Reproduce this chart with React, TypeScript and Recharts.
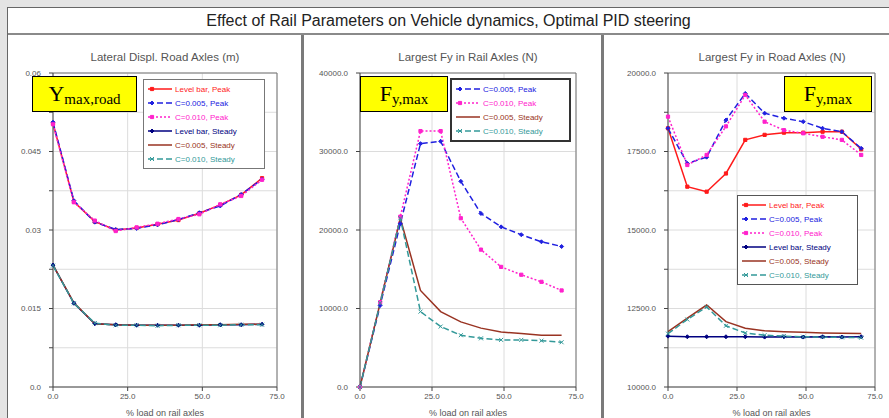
import React from "react";
import { CartesianGrid, Line, LineChart, ReferenceLine, XAxis, YAxis } from "recharts";

// x: % load on rail axles
const loadPct = [0, 7, 14, 21, 28, 35, 42, 49, 56, 63, 70];
const xTicks = [0, 25, 50, 75];
const xTickLabels = ["0.0", "25.0", "50.0", "75.0"];

// Lateral displacement, road axles (m)
const dispLevelPeak = [0.0504, 0.0354, 0.0316, 0.03, 0.0304, 0.0311, 0.0319, 0.0332, 0.0348, 0.0367, 0.0399];
const dispC005Peak = [0.0506, 0.0356, 0.0315, 0.0301, 0.0303, 0.031, 0.032, 0.0333, 0.0346, 0.0368, 0.0397];
const dispC010Peak = [0.0502, 0.0353, 0.0318, 0.0298, 0.0305, 0.0312, 0.0321, 0.033, 0.0349, 0.0365, 0.0396];
const dispLevelSteady = [0.0233, 0.016, 0.0121, 0.0119, 0.0118, 0.0118, 0.0118, 0.0118, 0.0119, 0.0119, 0.012];
const dispC005Steady = [0.0233, 0.0161, 0.0121, 0.0119, 0.0118, 0.0118, 0.0118, 0.0119, 0.0119, 0.012, 0.012];
const dispC010Steady = [0.0232, 0.016, 0.0122, 0.0118, 0.0118, 0.0117, 0.0118, 0.0118, 0.0118, 0.0119, 0.0119];
const dispTicks = [0, 0.0075, 0.015, 0.0225, 0.03, 0.0375, 0.045, 0.0525, 0.06];
const dispTickLabels = ["0.0", "", "0.015", "", "0.03", "", "0.045", "", "0.06"];

// Largest Fy in rail axles (N)
const railC005Peak = [0, 10400, 20800, 31000, 31300, 26200, 22100, 20400, 19400, 18500, 17900];
const railC010Peak = [0, 10800, 21700, 32600, 32600, 21500, 17500, 15300, 14300, 13400, 12300];
const railC005Steady = [0, 10700, 21500, 12300, 9600, 8300, 7500, 7000, 6800, 6600, 6600];
const railC010Steady = [0, 10700, 21500, 9600, 7700, 6600, 6200, 6000, 6000, 5900, 5700];
const railTicks = [0, 10000, 20000, 30000, 40000];
const railTickLabels = ["0.0", "10000.0", "20000.0", "30000.0", "40000.0"];

// Largest Fy in road axles (N)
const roadLevelPeak = [18240, 16380, 16220, 16800, 17870, 18030, 18100, 18100, 18130, 18130, 17570];
const roadC005Peak = [18240, 17120, 17320, 18500, 19350, 18720, 18560, 18450, 18240, 18130, 17600];
const roadC010Peak = [18610, 17070, 17390, 18300, 19300, 18450, 18180, 18080, 17970, 17870, 17390];
const roadLevelSteady = [11620, 11600, 11600, 11600, 11600, 11590, 11600, 11590, 11600, 11590, 11600];
const roadC005Steady = [11760, 12190, 12610, 12080, 11870, 11790, 11760, 11740, 11720, 11710, 11700];
const roadC010Steady = [11700, 12150, 12550, 11950, 11720, 11650, 11620, 11600, 11590, 11580, 11570];
const roadTicks = [10000, 11250, 12500, 13750, 15000, 16250, 17500, 18750, 20000];
const roadTickLabels = ["10000.0", "", "12500.0", "", "15000.0", "", "17500.0", "", "20000.0"];

const SERIES: Record<string, any> = {
  levelPeak: { name: "Level bar, Peak", color: "#ff1a1a", dash: undefined, marker: "square" },
  c005Peak: { name: "C=0.005, Peak", color: "#2020e0", dash: "6 3", marker: "diamond" },
  c010Peak: { name: "C=0.010, Peak", color: "#ff22cc", dash: "2 2", marker: "square" },
  levelSteady: { name: "Level bar, Steady", color: "#000080", dash: undefined, marker: "diamond" },
  c005Steady: { name: "C=0.005, Steady", color: "#993322", dash: undefined, marker: "none" },
  c010Steady: { name: "C=0.010, Steady", color: "#339999", dash: "6 3", marker: "cross" },
};

const build = (cols: Record<string, number[]>) =>
  loadPct.map((x, i) => {
    const row: any = { x };
    Object.keys(cols).forEach((k) => (row[k] = cols[k][i]));
    return row;
  });

const dispData = build({
  levelPeak: dispLevelPeak,
  c005Peak: dispC005Peak,
  c010Peak: dispC010Peak,
  levelSteady: dispLevelSteady,
  c005Steady: dispC005Steady,
  c010Steady: dispC010Steady,
});
const railData = build({
  c005Peak: railC005Peak,
  c010Peak: railC010Peak,
  c005Steady: railC005Steady,
  c010Steady: railC010Steady,
});
const roadData = build({
  levelPeak: roadLevelPeak,
  c005Peak: roadC005Peak,
  c010Peak: roadC010Peak,
  levelSteady: roadLevelSteady,
  c005Steady: roadC005Steady,
  c010Steady: roadC010Steady,
});

const markerPath = (kind: string, cx: number, cy: number, s: number) => {
  if (kind === "diamond") return `M${cx},${cy - s}L${cx + s},${cy}L${cx},${cy + s}L${cx - s},${cy}Z`;
  if (kind === "square") return `M${cx - s * 0.8},${cy - s * 0.8}h${s * 1.6}v${s * 1.6}h${-s * 1.6}Z`;
  if (kind === "cross") return `M${cx - s},${cy - s}L${cx + s},${cy + s}M${cx - s},${cy + s}L${cx + s},${cy - s}`;
  return "";
};

const makeDot = (kind: string, color: string) => (props: any) => {
  const { cx, cy, index } = props;
  if (kind === "none" || cx == null || cy == null) return <g key={index} />;
  return (
    <path
      key={index}
      d={markerPath(kind, cx, cy, 2)}
      fill={kind === "cross" ? "none" : color}
      stroke={color}
      strokeWidth={1}
    />
  );
};

const tickStyle = { fontSize: 8, fill: "#555", fontFamily: "Arial, 'Liberation Sans', sans-serif" };

function Panel(props: any) {
  const { left, width, yWidth, right, data, keys, domain, ticks, labels } = props;
  return (
    <div style={{ position: "absolute", left, top: 34 }}>
      <LineChart width={width} height={384} data={data} margin={{ top: 39, right, bottom: 0, left: 0 }}>
        <CartesianGrid stroke="#dcdcdc" />
        <XAxis
          dataKey="x"
          type="number"
          domain={[0, 75]}
          ticks={xTicks}
          interval={0}
          tickFormatter={(v: number) => xTickLabels[xTicks.indexOf(v)]}
          height={31}
          stroke="#444"
          tick={tickStyle}
          tickSize={4}
          tickMargin={2}
          label={{ value: "% load on rail axles", position: "insideBottom", offset: 2, fontSize: 9, fill: "#555" }}
        />
        <YAxis
          type="number"
          domain={domain}
          ticks={ticks}
          interval={0}
          tickFormatter={(v: number) => labels[ticks.indexOf(v)]}
          width={yWidth}
          stroke="#444"
          tick={tickStyle}
          tickSize={4}
          tickMargin={8}
        />
        <ReferenceLine y={domain[1]} stroke="#777" />
        <ReferenceLine x={75} stroke="#777" />
        {keys.map((k: string) => {
          const s = SERIES[k];
          return (
            <Line
              key={k}
              dataKey={k}
              name={s.name}
              type="linear"
              stroke={s.color}
              strokeWidth={1.5}
              strokeDasharray={s.dash}
              dot={makeDot(s.marker, s.color)}
              activeDot={false}
              isAnimationActive={false}
            />
          );
        })}
      </LineChart>
    </div>
  );
}

function LegendBox(props: any) {
  const { left, top, width, keys, border } = props;
  return (
    <div
      style={{
        position: "absolute",
        left,
        top,
        width,
        background: "#fff",
        border,
        padding: "2px 0 2px 3px",
        boxSizing: "border-box",
      }}
    >
      {keys.map((k: string) => {
        const s = SERIES[k];
        return (
          <div key={k} style={{ display: "flex", alignItems: "center", height: 14 }}>
            <svg width={26} height={10}>
              <line x1={1} y1={5} x2={25} y2={5} stroke={s.color} strokeWidth={1.5} strokeDasharray={s.dash} />
              {s.marker !== "none" && (
                <path
                  d={markerPath(s.marker, 5, 5, 2)}
                  fill={s.marker === "cross" ? "none" : s.color}
                  stroke={s.color}
                />
              )}
            </svg>
            <span style={{ fontSize: 8, color: s.color, marginLeft: 2, whiteSpace: "nowrap" }}>{s.name}</span>
          </div>
        );
      })}
    </div>
  );
}

function Tag(props: any) {
  const { left, width, main, sub } = props;
  return (
    <div
      style={{
        position: "absolute",
        left,
        top: 76,
        width,
        height: 36,
        background: "#ffff00",
        border: "1px solid #000",
        boxSizing: "border-box",
        display: "flex",
        alignItems: "center",
        justifyContent: "center",
        fontFamily: "'Liberation Serif', 'Times New Roman', serif",
        color: "#000",
      }}
    >
      <span style={{ fontSize: 22 }}>{main}</span>
      <span style={{ fontSize: 15, position: "relative", top: 5 }}>{sub}</span>
    </div>
  );
}

const subTitle = (text: string, center: number) => (
  <div
    style={{
      position: "absolute",
      left: center - 120,
      width: 240,
      top: 51,
      textAlign: "center",
      fontSize: 11.5,
      color: "#555",
    }}
  >
    {text}
  </div>
);

export default function App() {
  const allKeys = ["levelPeak", "c005Peak", "c010Peak", "levelSteady", "c005Steady", "c010Steady"];
  const railKeys = ["c005Peak", "c010Peak", "c005Steady", "c010Steady"];
  return (
    <div
      style={{
        position: "absolute",
        left: 0,
        top: 0,
        width: 889,
        height: 418,
        background: "#e4e4e4",
        overflow: "hidden",
        fontFamily: "Arial, 'Liberation Sans', sans-serif",
      }}
    >
      <div
        style={{
          position: "absolute",
          left: 7,
          top: 7,
          width: 890,
          height: 420,
          background: "#fff",
          borderLeft: "1px solid #666",
          borderTop: "1px solid #666",
        }}
      />
      <div
        style={{
          position: "absolute",
          left: 8,
          top: 8,
          width: 881,
          height: 25,
          lineHeight: "25px",
          textAlign: "center",
          fontSize: 16,
          color: "#222",
        }}
      >
        Effect of Rail Parameters on Vehicle dynamics, Optimal PID steering
      </div>
      <div style={{ position: "absolute", left: 8, top: 33, width: 881, height: 2, background: "#8a8a8a" }} />
      <div style={{ position: "absolute", left: 301, top: 35, width: 3, height: 383, background: "#7a7a7a" }} />
      <div style={{ position: "absolute", left: 601, top: 35, width: 3, height: 383, background: "#7a7a7a" }} />

      {subTitle("Lateral Displ. Road Axles (m)", 165)}
      {subTitle("Largest Fy in Rail Axles (N)", 468)}
      {subTitle("Largest Fy in Road Axles (N)", 772)}

      <Panel
        left={8}
        width={293}
        yWidth={45}
        right={24}
        data={dispData}
        keys={allKeys}
        domain={[0, 0.06]}
        ticks={dispTicks}
        labels={dispTickLabels}
      />
      <Panel
        left={304}
        width={297}
        yWidth={56}
        right={25}
        data={railData}
        keys={railKeys}
        domain={[0, 40000]}
        ticks={railTicks}
        labels={railTickLabels}
      />
      <Panel
        left={604}
        width={285}
        yWidth={64}
        right={14}
        data={roadData}
        keys={allKeys}
        domain={[10000, 20000]}
        ticks={roadTicks}
        labels={roadTickLabels}
      />

      <LegendBox left={143} top={79} width={122} keys={allKeys} border="1px solid #777" />
      <LegendBox left={450} top={78} width={121} keys={railKeys} border="2px solid #333" />
      <LegendBox left={737} top={195} width={121} keys={allKeys} border="1px solid #555" />

      <Tag left={32} width={105} main="Y" sub="max,road" />
      <Tag left={360} width={88} main="F" sub="y,max" />
      <Tag left={784} width={88} main="F" sub="y,max" />
    </div>
  );
}
